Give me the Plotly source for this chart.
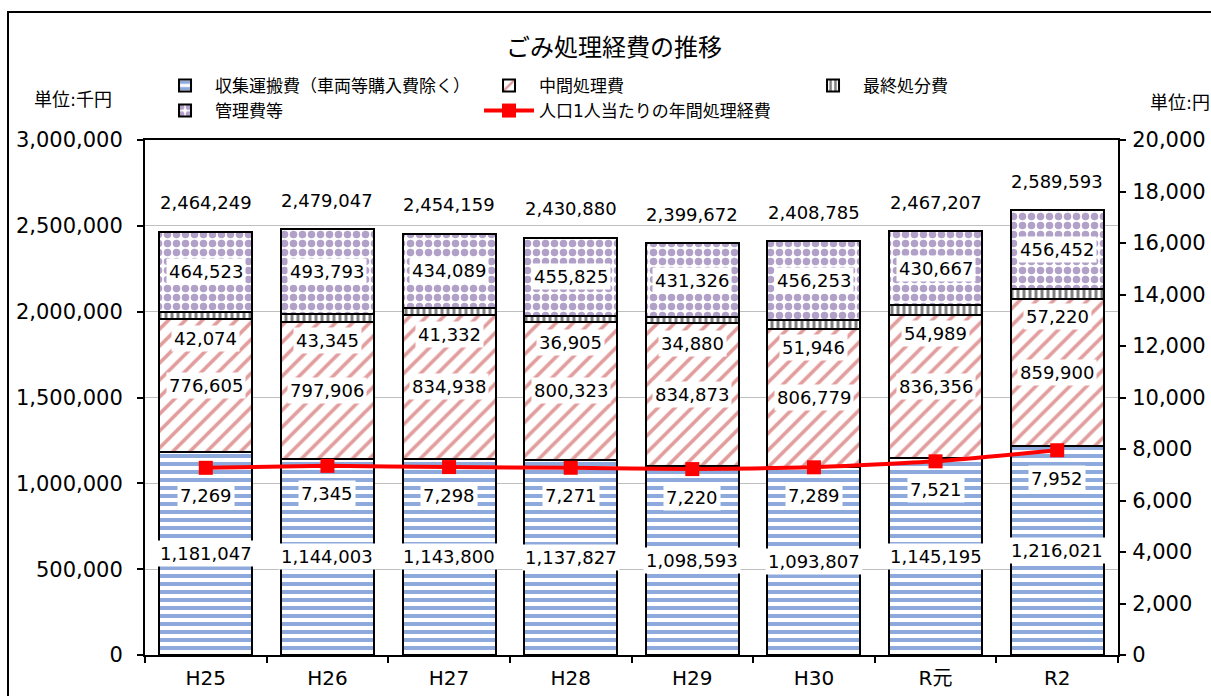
import numpy as np
import plotly.graph_objects as go

categories = ["H25", "H26", "H27", "H28", "H29", "H30", "R元", "R2"]
collection = [1181047, 1144003, 1143800, 1137827, 1098593, 1093807, 1145195, 1216021]
intermediate = [776605, 797906, 834938, 800323, 834873, 806779, 836356, 859900]
final_disposal = [42074, 43345, 41332, 36905, 34880, 51946, 54989, 57220]
management = [464523, 493793, 434089, 455825, 431326, 456253, 430667, 456452]
totals = [2464249, 2479047, 2454159, 2430880, 2399672, 2408785, 2467207, 2589593]
per_capita = [7269, 7345, 7298, 7271, 7220, 7289, 7521, 7952]

FONT = "DejaVu Sans, Noto Sans CJK JP"
fig = go.Figure()

series = [
    ("収集運搬費（車両等購入費除く）", collection, "-", "#8EA9DB", 8, 0.5),
    ("中間処理費", intermediate, "/", "#E29C9C", 12, 0.3),
    ("最終処分費", final_disposal, "|", "#7F7F7F", 6, 0.5),
    ("管理費等", management, ".", "#B1A0C7", 9, 0.55),
]
for name, vals, shape, col, size, sol in series:
    fig.add_trace(go.Bar(
        name=name, x=categories, y=vals,
        marker=dict(color="white", line=dict(color="black", width=2),
                    pattern=dict(shape=shape, fgcolor=col, bgcolor="white",
                                 size=size, solidity=sol, fillmode="replace")),
        hoverinfo="skip",
    ))

fig.add_trace(go.Scatter(
    name="人口1人当たりの年間処理経費", x=categories, y=per_capita, yaxis="y2",
    mode="lines+markers", line=dict(color="#FF0000", width=4, shape="spline", smoothing=0.5),
    marker=dict(symbol="square", size=14, color="#FF0000"),
))

c = np.array(collection, float)
m = np.array(intermediate, float)
f = np.array(final_disposal, float)
g = np.array(management, float)
anns = []
def lab(x, y, v, yref="y", yshift=0, bg="white"):
    anns.append(dict(x=x, y=y, xref="x", yref=yref, text=f"{v:,}", showarrow=False,
                     yshift=yshift, bgcolor=bg, borderpad=2,
                     xanchor="center", yanchor="middle",
                     font=dict(size=18, family=FONT, color="black")))
for i, cat in enumerate(categories):
    lab(cat, c[i] / 2, collection[i])
    lab(cat, c[i] + m[i] / 2, intermediate[i])
    lab(cat, c[i] + m[i] + f[i] / 2, final_disposal[i], yshift=-23)
    lab(cat, c[i] + m[i] + f[i] + g[i] / 2, management[i])
    lab(cat, totals[i], totals[i], yshift=29, bg="rgba(0,0,0,0)")
    lab(cat, per_capita[i], per_capita[i], yref="y2", yshift=-28)

anns.append(dict(x=-0.074, y=1.078, xref="paper", yref="paper", text="単位:千円",
                 showarrow=False, xanchor="center", yanchor="middle",
                 font=dict(size=18, family=FONT, color="black")))
anns.append(dict(x=1.0637, y=1.072, xref="paper", yref="paper", text="単位:円",
                 showarrow=False, xanchor="center", yanchor="middle",
                 font=dict(size=18, family=FONT, color="black")))

fig.update_layout(
    width=1211, height=696, barmode="stack", bargap=0.235,
    margin=dict(l=145, r=93, t=140, b=41, autoexpand=False),
    paper_bgcolor="white", plot_bgcolor="white",
    font=dict(family=FONT, size=18, color="black"),
    title=dict(text="ごみ処理経費の推移", x=0.507, xref="container", y=0.932,
               yref="container", xanchor="center", yanchor="middle",
               font=dict(size=24, family=FONT, color="black")),
    legend=dict(orientation="h", x=0.0103, y=1.14, xanchor="left",
                yanchor="top", entrywidth=259, entrywidthmode="pixels", itemwidth=50,
                font=dict(size=17, family=FONT), traceorder="normal",
                bgcolor="rgba(0,0,0,0)", tracegroupgap=0),
    xaxis=dict(showline=True, linecolor="black", linewidth=2, mirror=True,
               ticks="outside", tickson="boundaries", ticklen=6, tickcolor="black",
               tickwidth=2, tickfont=dict(size=20), ticklabelstandoff=4),
    yaxis=dict(range=[0, 3000000], dtick=500000, tickformat=",", showgrid=True,
               gridcolor="#BFBFBF", gridwidth=1, showline=True, linecolor="black",
               linewidth=2, ticks="outside", ticklen=6, tickcolor="black", tickwidth=2,
               tickfont=dict(size=21), zeroline=False, ticklabelstandoff=10),
    yaxis2=dict(range=[0, 20000], dtick=2000, tickformat=",", overlaying="y",
                side="right", showgrid=False, showline=True, linecolor="black",
                linewidth=2, ticks="outside", ticklen=6, tickcolor="black", tickwidth=2,
                tickfont=dict(size=21), zeroline=False, ticklabelstandoff=2),
    annotations=anns,
    shapes=[dict(type="rect", xref="paper", yref="paper", x0=-0.1408, y0=-0.2,
                 x1=1.2, y1=1.2485, line=dict(color="black", width=2),
                 fillcolor="rgba(0,0,0,0)", layer="above")],
)

fig.write_html("out.html")
